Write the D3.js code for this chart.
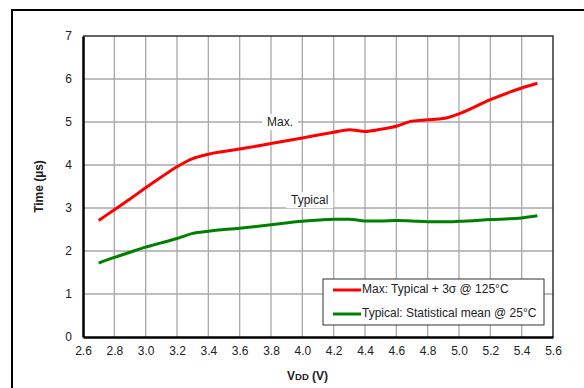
<!DOCTYPE html>
<html>
<head>
<meta charset="utf-8">
<script src="https://cdn.jsdelivr.net/npm/d3@7"></script>
<style>
  body { margin: 0; background: #fff; }
  svg { display: block; font-family: "Liberation Sans", Arial, sans-serif; }
</style>
</head>
<body>
<svg id="chart" width="584" height="388"></svg>
<script>
// supply voltage (V)
const vdd = [2.7, 2.8, 2.9, 3.0, 3.1, 3.2, 3.3, 3.4, 3.6, 3.8, 4.0, 4.2, 4.3, 4.4, 4.5, 4.6, 4.7, 4.8, 4.9, 5.0, 5.2, 5.4, 5.5];
// Max: typical + 3 sigma @ 125C (us)
const maxTime = [2.71, 2.96, 3.21, 3.47, 3.72, 3.96, 4.15, 4.25, 4.37, 4.50, 4.63, 4.76, 4.82, 4.78, 4.83, 4.90, 5.02, 5.05, 5.08, 5.19, 5.52, 5.79, 5.90];
// Typical: statistical mean @ 25C (us)
const typTime = [1.72, 1.85, 1.97, 2.09, 2.19, 2.29, 2.41, 2.46, 2.53, 2.61, 2.69, 2.74, 2.74, 2.70, 2.70, 2.71, 2.70, 2.68, 2.68, 2.69, 2.73, 2.77, 2.82];

const xTicks = [2.6, 2.8, 3.0, 3.2, 3.4, 3.6, 3.8, 4.0, 4.2, 4.4, 4.6, 4.8, 5.0, 5.2, 5.4, 5.6];
const yTicks = [0, 1, 2, 3, 4, 5, 6, 7];
const seriesNames = ["Max: Typical + 3\u03c3 @ 125\u00b0C", "Typical: Statistical mean @ 25\u00b0C"];
const seriesColors = ["#ff0000", "#008000"];

const margin = {left: 83, top: 36, right: 31, bottom: 51};
const W = 584, H = 388;

const svg = d3.select("#chart");

// outer frame
svg.append("path")
    .attr("d", "M12,400 V10 H600")
    .attr("fill", "none")
    .attr("stroke", "#000")
    .attr("stroke-width", 2);

const x = d3.scaleLinear().domain([2.6, 5.6]).range([margin.left, W - margin.right]);
const y = d3.scaleLinear().domain([0, 7]).range([H - margin.bottom, margin.top]);

// grid
const grid = svg.append("g").attr("stroke", "#a8a8a8").attr("stroke-width", 1.3);
grid.selectAll(".vg").data(xTicks.slice(1, -1)).enter().append("line")
    .attr("x1", d => x(d)).attr("x2", d => x(d))
    .attr("y1", y(0)).attr("y2", y(7));
grid.selectAll(".hg").data(yTicks.slice(1, -1)).enter().append("line")
    .attr("x1", x(2.6)).attr("x2", x(5.6))
    .attr("y1", d => y(d)).attr("y2", d => y(d));

// top / right border
svg.append("path")
    .attr("d", `M${x(2.6)},${y(7)} H${x(5.6)} V${y(0)}`)
    .attr("fill", "none").attr("stroke", "#333").attr("stroke-width", 1.5);

// axes
const xAxis = d3.axisBottom(x).tickValues(xTicks).tickFormat(d3.format(".1f")).tickSize(0).tickPadding(9);
const yAxis = d3.axisLeft(y).tickValues(yTicks).tickFormat(d3.format("d")).tickSize(0).tickPadding(11);

const gx = svg.append("g").attr("transform", `translate(0,${y(0)})`).call(xAxis);
const gy = svg.append("g").attr("transform", `translate(${x(2.6)},0)`).call(yAxis);
[gx, gy].forEach(g => {
    g.select(".domain").attr("stroke", "#000").attr("stroke-width", 2.5);
    g.selectAll("text").attr("font-size", 12).attr("fill", "#222")
        .attr("font-family", "Liberation Sans, Arial, sans-serif");
});

// series labels on the chart
function inlineLabel(txt, lx, ly) {
    const lab = svg.append("g");
    const t = lab.append("text").attr("x", lx).attr("y", ly).attr("font-size", 12)
        .attr("fill", "#222").attr("dominant-baseline", "middle").text(txt);
    const b = t.node().getBBox();
    lab.insert("rect", "text")
        .attr("x", b.x - 5).attr("y", b.y - 1).attr("width", b.width + 10).attr("height", b.height + 2)
        .attr("fill", "#fff");
}
inlineLabel("Max.", 267, 123);
inlineLabel("Typical", 291, 201);

// lines
const line = d3.line().curve(d3.curveMonotoneX);
[maxTime, typTime].forEach((vals, i) => {
    svg.append("path")
        .attr("d", line(vdd.map((v, j) => [x(v), y(vals[j])])))
        .attr("fill", "none")
        .attr("stroke", seriesColors[i])
        .attr("stroke-width", 3)
        .attr("stroke-linejoin", "round");
});

// legend
const lg = svg.append("g").attr("transform", "translate(323,279)");
lg.append("rect").attr("width", 221).attr("height", 46)
    .attr("fill", "#fff").attr("stroke", "#333").attr("stroke-width", 1);
seriesNames.forEach((name, i) => {
    const ly = 11 + i * 24;
    lg.append("line").attr("x1", 10).attr("x2", 38).attr("y1", ly).attr("y2", ly)
        .attr("stroke", seriesColors[i]).attr("stroke-width", 3);
    lg.append("text").attr("x", 39).attr("y", ly).attr("dominant-baseline", "middle")
        .attr("font-size", 12).attr("fill", "#222").text(name);
});

// axis titles
const xt = svg.append("text").attr("x", 287).attr("y", 377).attr("dominant-baseline", "middle")
    .attr("font-size", 12).attr("font-weight", "bold").attr("fill", "#222");
xt.append("tspan").text("V");
xt.append("tspan").attr("font-size", 9.5).text("DD");
xt.append("tspan").text(" (V)");

svg.append("text")
    .attr("transform", `translate(40,${(y(0) + y(7)) / 2}) rotate(-90)`)
    .attr("text-anchor", "middle").attr("dominant-baseline", "middle")
    .attr("font-size", 12).attr("font-weight", "bold").attr("fill", "#222")
    .text("Time (\u00b5s)");
</script>
</body>
</html>
